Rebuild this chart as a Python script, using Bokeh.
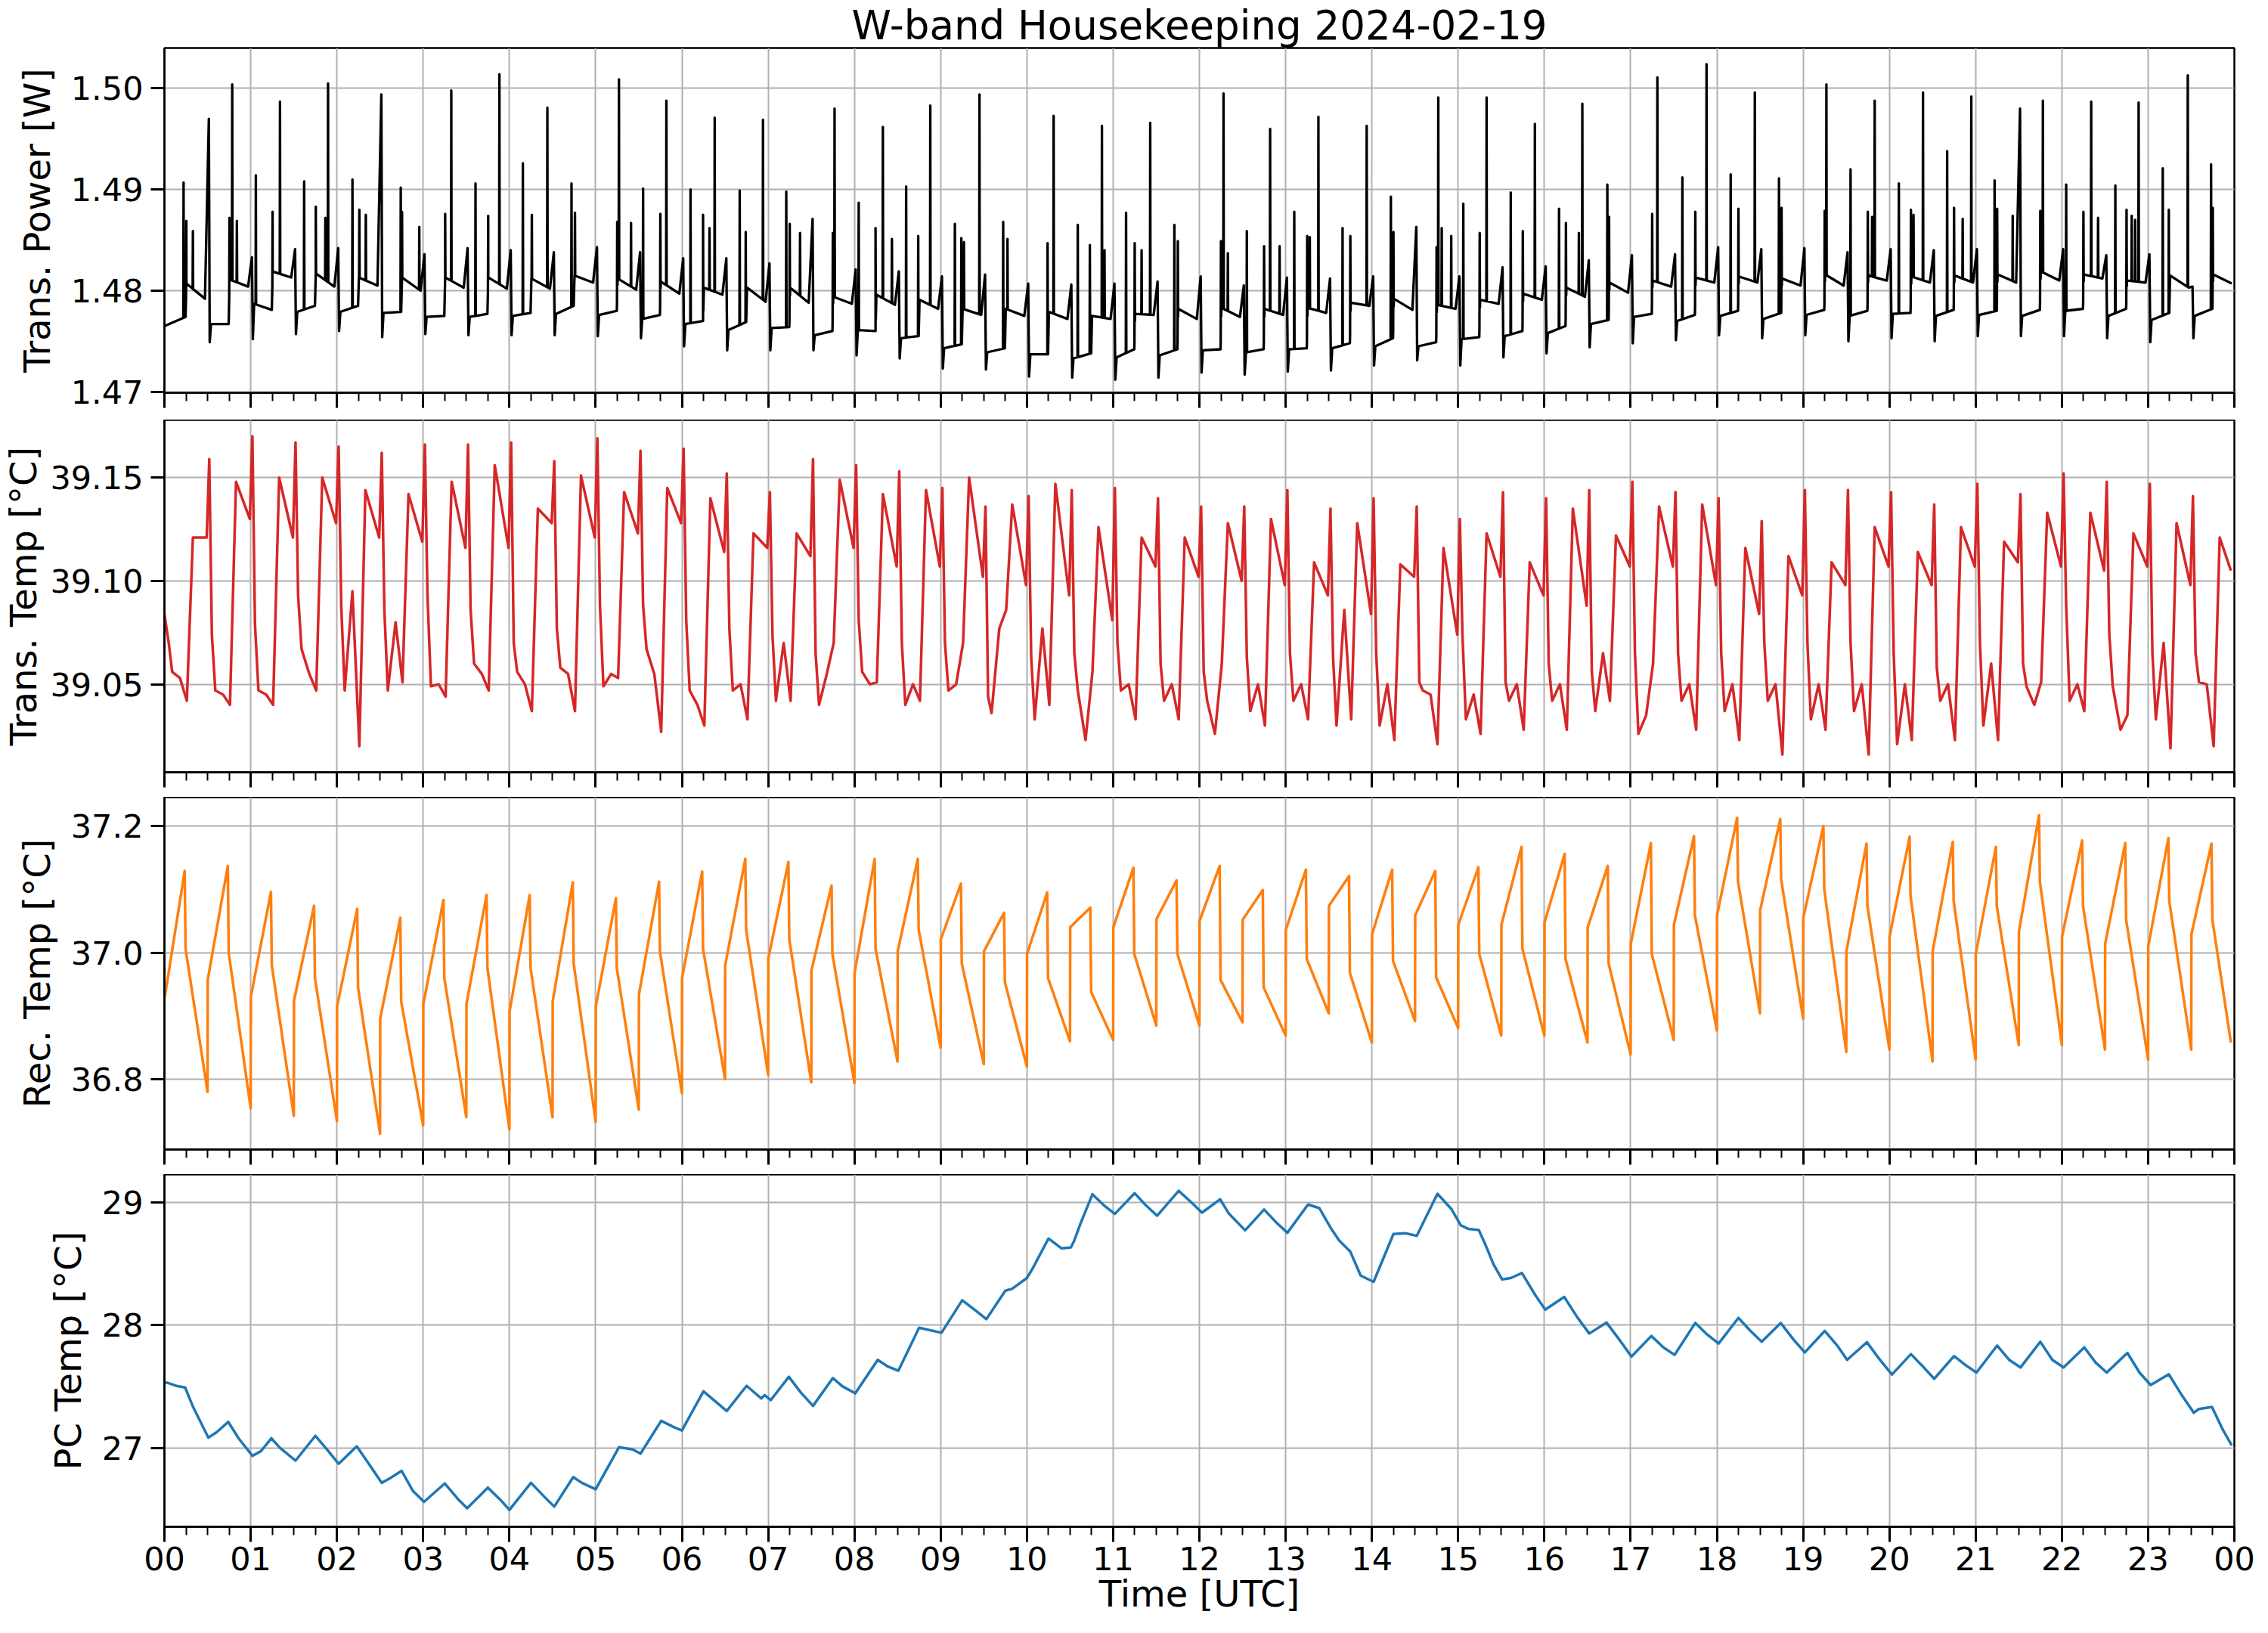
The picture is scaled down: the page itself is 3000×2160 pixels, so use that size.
import numpy as np
from bokeh.plotting import figure
from bokeh.models import FixedTicker, PrintfTickFormatter, Range1d
from bokeh.layouts import column
from bokeh.embed import file_html
from bokeh.resources import INLINE

# ---------------- texts ----------------
TITLE = "W-band Housekeeping 2024-02-19"
X_LABEL = "Time [UTC]"
Y_LABELS = ["Trans. Power [W]", "Trans. Temp [°C]", "Rec. Temp [°C]", "PC Temp [°C]"]
HOUR_TICKS = list(range(25))
HOUR_LABELS = ["00", "01", "02", "03", "04", "05", "06", "07", "08", "09", "10", "11",
               "12", "13", "14", "15", "16", "17", "18", "19", "20", "21", "22", "23", "00"]
QUARTER_TICKS = [h + q for h in range(24) for q in (0.25, 0.5, 0.75)]

POWER_TICKS = [1.47, 1.48, 1.49, 1.50]
TTEMP_TICKS = [39.05, 39.10, 39.15]
RTEMP_TICKS = [36.8, 37.0, 37.2]
PC_TICKS = [27, 28, 29]

# half-hour duty cycles (48 per day)
cycle_start = np.arange(48) * 0.5

# ---------------- Trans. Power [W] (black) ----------------
pw_dip = [None, 1.4749, 1.4752, 1.4757, 1.4760, 1.4754, 1.4757, 1.4756, 1.4756, 1.4756,
          1.4755, 1.4753, 1.4745, 1.4741, 1.4741, 1.4741, 1.4736, 1.4733, 1.4723, 1.4722,
          1.4715, 1.4714, 1.4712, 1.4714, 1.4719, 1.4717, 1.4720, 1.4721, 1.4726, 1.4731,
          1.4726, 1.4734, 1.4738, 1.4744, 1.4748, 1.4751, 1.4756, 1.4753, 1.4756, 1.4750,
          1.4753, 1.4750, 1.4755, 1.4755, 1.4755, 1.4753, 1.4749, 1.4753]
pw_lo1 = [1.4765, 1.4767, 1.4787, 1.4779, 1.4779, 1.4778, 1.4774, 1.4774, 1.4775, 1.4777,
          1.4776, 1.4772, 1.4767, 1.4761, 1.4763, 1.4756, 1.4761, 1.4753, 1.4743, 1.4739,
          1.4737, 1.4733, 1.4734, 1.4736, 1.4741, 1.4739, 1.4742, 1.4743, 1.4745, 1.4745,
          1.4752, 1.4755, 1.4758, 1.4767, 1.4774, 1.4770, 1.4775, 1.4772, 1.4776, 1.4775,
          1.4777, 1.4775, 1.4776, 1.4775, 1.4780, 1.4775, 1.4771, 1.4775]
pw_lo2 = [1.4774, 1.4767, 1.4781, 1.4785, 1.4785, 1.4779, 1.4775, 1.4777, 1.4778, 1.4785,
          1.4780, 1.4776, 1.4770, 1.4769, 1.4764, 1.4760, 1.4760, 1.4755, 1.4747, 1.4743,
          1.4737, 1.4738, 1.4742, 1.4742, 1.4742, 1.4742, 1.4743, 1.4748, 1.4753, 1.4749,
          1.4754, 1.4760, 1.4765, 1.4771, 1.4777, 1.4776, 1.4780, 1.4778, 1.4781, 1.4780,
          1.4778, 1.4781, 1.4780, 1.4781, 1.4782, 1.4782, 1.4778, 1.4782]
pw_hi1 = [1.4807, 1.4811, 1.4819, 1.4817, 1.4813, 1.4813, 1.4813, 1.4813, 1.4812, 1.4815,
          1.4812, 1.4809, 1.4803, 1.4803, 1.4803, 1.4794, 1.4796, 1.4791, 1.4782, 1.4782,
          1.4779, 1.4775, 1.4777, 1.4782, 1.4783, 1.4782, 1.4783, 1.4788, 1.4792, 1.4786,
          1.4791, 1.4797, 1.4803, 1.4808, 1.4810, 1.4813, 1.4814, 1.4812, 1.4816, 1.4815,
          1.4814, 1.4815, 1.4816, 1.4819, 1.4816, 1.4810, 1.4815, 1.4816]
pw_hi2 = [1.4792, 1.4804, 1.4813, 1.4804, 1.4805, 1.4800, 1.4803, 1.4802, 1.4802, 1.4808,
          1.4801, 1.4797, 1.4796, 1.4789, 1.4788, 1.4787, 1.4786, 1.4782, 1.4776, 1.4775,
          1.4772, 1.4772, 1.4776, 1.4772, 1.4774, 1.4776, 1.4778, 1.4785, 1.4781, 1.4782,
          1.4787, 1.4791, 1.4794, 1.4798, 1.4804, 1.4808, 1.4808, 1.4805, 1.4805, 1.4810,
          1.4808, 1.4808, 1.4808, 1.4810, 1.4812, 1.4808, 1.4803, 1.4807]
pw_ramp = [1.4970, 1.4833, 1.4841, 1.4842, 1.4994, 1.4836, 1.4842, 1.4840, 1.4838, 1.4843,
           1.4838, 1.4832, 1.4832, 1.4827, 1.4871, 1.4821, 1.4819, 1.4814, 1.4816, 1.4807,
           1.4806, 1.4807, 1.4809, 1.4814, 1.4805, 1.4813, 1.4812, 1.4814, 1.4863, 1.4814,
           1.4823, 1.4824, 1.4830, 1.4835, 1.4836, 1.4843, 1.4841, 1.4842, 1.4838, 1.4841,
           1.4840, 1.4841, 1.4980, 1.4841, 1.4835, 1.4836, 1.4804, None]
spike_t = [0.222, 0.254, 0.33, 0.754, 0.786, 0.84, 1.06, 1.254, 1.34, 1.62, 1.755, 1.866, 1.897,
           2.18, 2.26, 2.335, 2.74, 2.755, 2.955, 3.255, 3.326, 3.607, 3.754, 3.884,
           4.156, 4.26, 4.44, 4.72, 4.76, 5.25, 5.27, 5.41, 5.55, 5.75, 5.82,
           6.10, 6.245, 6.32, 6.38, 6.67, 6.74, 6.94, 7.21, 7.25, 7.37, 7.75, 7.77,
           8.05, 8.245, 8.33, 8.435, 8.60, 8.74, 8.88, 9.165, 9.24, 9.27, 9.45, 9.725, 9.775,
           10.24, 10.31, 10.59, 10.73, 10.87, 10.90, 11.15, 11.25, 11.33, 11.43, 11.71, 11.75,
           12.25, 12.28, 12.33, 12.55, 12.75, 12.82, 12.93, 13.10, 13.25, 13.28, 13.38,
           13.66, 13.75, 13.94, 14.22, 14.25, 14.75, 14.77, 14.81, 14.92, 15.06, 15.25, 15.33,
           15.61, 15.75, 15.89, 16.17, 16.25, 16.40, 16.44, 16.73, 16.75, 17.25, 17.31,
           17.60, 17.75, 17.88, 18.16, 18.25, 18.44, 18.72, 18.75, 19.25, 19.27,
           19.55, 19.75, 19.80, 19.83, 20.11, 20.25, 20.28, 20.39, 20.67, 20.75, 20.85, 20.95,
           21.22, 21.25, 21.43, 21.75, 21.78, 22.05, 22.25, 22.34, 22.42,
           22.62, 22.75, 22.81, 22.85, 22.89, 23.17, 23.24, 23.46, 23.73, 23.75]
spike_v = [1.4907, 1.4869, 1.4859, 1.4872, 1.5004, 1.4869, 1.4914, 1.4878, 1.4987, 1.4908, 1.4883, 1.4872, 1.5005,
           1.4910, 1.4880, 1.4875, 1.4902, 1.4878, 1.4863, 1.4876, 1.4998, 1.4906, 1.4874, 1.5014,
           1.4926, 1.4875, 1.4981, 1.4906, 1.4877, 1.4868, 1.5009, 1.4867, 1.4901, 1.4876, 1.4988,
           1.4900, 1.4875, 1.4862, 1.4971, 1.4899, 1.4858, 1.4969, 1.4898, 1.4866, 1.4857, 1.4857, 1.4980,
           1.4887, 1.4862, 1.4962, 1.4851, 1.4903, 1.4854, 1.4983, 1.4866, 1.4852, 1.4848, 1.4994, 1.4868, 1.4851,
           1.4847, 1.4973, 1.4865, 1.4845, 1.4963, 1.4840, 1.4877, 1.4847, 1.4840, 1.4966, 1.4865, 1.4849,
           1.4849, 1.4995, 1.4837, 1.4859, 1.4844, 1.4960, 1.4844, 1.4878, 1.4854, 1.4853, 1.4972,
           1.4862, 1.4854, 1.4963, 1.4893, 1.4858, 1.4843, 1.4991, 1.4862, 1.4854, 1.4886, 1.4857, 1.4991,
           1.4897, 1.4859, 1.4965, 1.4881, 1.4867, 1.4857, 1.4985, 1.4905, 1.4873, 1.4876, 1.5011,
           1.4912, 1.4878, 1.5024, 1.4915, 1.4881, 1.4996, 1.4911, 1.4882, 1.4879, 1.5004,
           1.4920, 1.4878, 1.4873, 1.4988, 1.4906, 1.4880, 1.4875, 1.4996, 1.4938, 1.4882, 1.4871, 1.4992,
           1.4909, 1.4881, 1.4874, 1.4879, 1.4988, 1.4905, 1.4878, 1.4987, 1.4872,
           1.4904, 1.4880, 1.4874, 1.4870, 1.4986, 1.4921, 1.4880, 1.5013, 1.4925, 1.4882]

# ---------------- Trans. Temp [°C] (red) ----------------
tt_spike = [39.084, 39.159, 39.170, 39.167, 39.165, 39.162, 39.166, 39.166, 39.167, 39.158,
            39.169, 39.163, 39.164, 39.152, 39.143, 39.159, 39.156, 39.153, 39.145, 39.136,
            39.141, 39.144, 39.145, 39.140, 39.136, 39.136, 39.144, 39.135, 39.140, 39.136,
            39.130, 39.143, 39.140, 39.144, 39.148, 39.143, 39.140, 39.129, 39.144, 39.144,
            39.143, 39.137, 39.147, 39.142, 39.152, 39.148, 39.147, 39.141]
tt_drop = [39.070, 39.074, 39.079, 39.093, 39.088, 39.086, 39.093, 39.086, 39.070, 39.077,
           39.088, 39.088, 39.081, 39.077, 39.074, 39.065, 39.081, 39.070, 39.070, 39.044,
           39.063, 39.065, 39.070, 39.060, 39.056, 39.063, 39.065, 39.063, 39.065, 39.051,
           39.074, 39.051, 39.060, 39.056, 39.065, 39.065, 39.065, 39.070, 39.070, 39.070,
           39.065, 39.058, 39.070, 39.060, 39.088, 39.074, 39.065, 39.065]
tt_low1 = [39.056, 39.047, 39.047, 39.067, 39.047, 39.047, 39.049, 39.060, 39.056, 39.058,
           39.049, 39.067, 39.047, 39.047, 39.042, 39.040, 39.056, 39.040, 39.047, 39.036,
           39.033, 39.047, 39.047, 39.042, 39.042, 39.037, 39.042, 39.030, 39.030, 39.047,
           39.033, 39.042, 39.042, 39.037, 39.026, 39.042, 39.037, 39.042, 39.033, 39.037,
           39.021, 39.042, 39.030, 39.049, 39.042, 39.049, 39.033, 39.051]
tt_low2 = [39.053, 39.045, 39.045, 39.055, 39.095, 39.080, 39.050, 39.055, 39.050, 39.055,
           39.055, 39.055, 39.040, 39.050, 39.070, 39.055, 39.050, 39.050, 39.050, 39.077,
           39.077, 39.023, 39.050, 39.050, 39.026, 39.050, 39.050, 39.086, 39.050, 39.045,
           39.045, 39.050, 39.050, 39.065, 39.035, 39.050, 39.050, 39.050, 39.050, 39.050,
           39.050, 39.050, 39.060, 39.040, 39.050, 39.028, 39.070, 39.050]
tt_low3 = [39.042, 39.040, 39.040, 39.047, 39.020, 39.051, 39.044, 39.047, 39.037, 39.037,
           39.053, 39.027, 39.030, 39.033, 39.042, 39.070, 39.051, 39.042, 39.070, 39.086,
           39.040, 39.056, 39.033, 39.033, 39.060, 39.030, 39.033, 39.033, 39.023, 39.021,
           39.026, 39.028, 39.028, 39.042, 39.060, 39.028, 39.023, 39.016, 39.028, 39.016,
           39.023, 39.023, 39.023, 39.051, 39.037, 39.035, 39.019, 39.020]
tt_high1 = [39.121, 39.148, 39.150, 39.150, 39.144, 39.142, 39.148, 39.156, 39.135, 39.151,
            39.143, 39.145, 39.140, 39.123, 39.123, 39.149, 39.142, 39.144, 39.150, 39.137,
            39.147, 39.126, 39.121, 39.121, 39.128, 39.130, 39.109, 39.128, 39.108, 39.116,
            39.123, 39.109, 39.135, 39.122, 39.136, 39.137, 39.116, 39.112, 39.109, 39.126,
            39.114, 39.126, 39.119, 39.133, 39.133, 39.123, 39.128, 39.121]
tt_high2 = [39.121, 39.130, 39.121, 39.128, 39.121, 39.119, 39.116, 39.116, 39.128, 39.121,
            39.123, 39.128, 39.114, 39.116, 39.112, 39.116, 39.107, 39.107, 39.102, 39.098,
            39.093, 39.081, 39.107, 39.102, 39.100, 39.098, 39.093, 39.084, 39.102, 39.074,
            39.102, 39.093, 39.088, 39.107, 39.107, 39.098, 39.084, 39.093, 39.098, 39.107,
            39.098, 39.107, 39.109, 39.107, 39.105, 39.107, 39.098, 39.105]

# ---------------- Rec. Temp [°C] (orange) ----------------
rt_jump = [36.926, 36.957, 36.930, 36.924, 36.915, 36.896, 36.919, 36.919, 36.907, 36.923,
           36.915, 36.934, 36.960, 36.980, 36.991, 36.972, 36.968, 37.002, 37.021, 37.002,
           36.998, 37.040, 37.040, 37.053, 37.050, 37.052, 37.036, 37.074, 37.029, 37.059,
           37.044, 37.044, 37.048, 37.040, 37.014, 37.044, 37.059, 37.067, 37.055, 37.002,
           37.025, 37.002, 36.998, 37.033, 37.025, 37.014, 37.010, 37.029]
rt_peak = [37.129, 37.137, 37.096, 37.074, 37.069, 37.055, 37.083, 37.091, 37.091, 37.111,
           37.086, 37.112, 37.128, 37.148, 37.143, 37.106, 37.148, 37.148, 37.109, 37.063,
           37.095, 37.071, 37.134, 37.114, 37.137, 37.099, 37.131, 37.121, 37.131, 37.129,
           37.135, 37.167, 37.156, 37.137, 37.173, 37.184, 37.213, 37.211, 37.200, 37.172,
           37.183, 37.175, 37.167, 37.217, 37.177, 37.173, 37.181, 37.172]
rt_fall = [37.006, 37.000, 36.980, 36.960, 36.945, 36.923, 36.960, 36.976, 36.976, 36.983,
           36.976, 37.002, 37.006, 37.036, 37.021, 36.998, 37.006, 37.036, 36.983, 36.953,
           36.960, 36.938, 36.998, 36.998, 36.957, 36.945, 36.990, 36.968, 36.987, 36.961,
           36.998, 37.006, 36.990, 36.983, 36.998, 37.059, 37.112, 37.116, 37.100, 37.074,
           37.090, 37.082, 37.074, 37.112, 37.074, 37.052, 37.082, 37.052]
rt_trough = [36.780, 36.754, 36.742, 36.734, 36.714, 36.727, 36.740, 36.721, 36.740, 36.733,
             36.752, 36.778, 36.800, 36.807, 36.795, 36.794, 36.828, 36.850, 36.824, 36.820,
             36.860, 36.862, 36.885, 36.885, 36.890, 36.869, 36.904, 36.858, 36.892, 36.881,
             36.869, 36.869, 36.858, 36.839, 36.862, 36.877, 36.904, 36.896, 36.843, 36.847,
             36.828, 36.831, 36.854, 36.854, 36.847, 36.831, 36.847, 36.858]

# ---------------- PC Temp [°C] (blue) ----------------
pc_t = [0.00, 0.03, 0.14, 0.24, 0.33, 0.51, 0.61, 0.74, 0.86, 1.02, 1.12, 1.24, 1.34, 1.52, 1.75,
        1.90, 2.02, 2.23, 2.37, 2.52, 2.62, 2.75, 2.88, 3.01, 3.25, 3.40, 3.51, 3.75, 3.90, 4.00,
        4.25, 4.41, 4.52, 4.74, 4.84, 5.00, 5.27, 5.43, 5.52, 5.76, 5.91, 6.00, 6.25, 6.52, 6.75,
        6.92, 6.96, 7.03, 7.24, 7.38, 7.52, 7.75, 7.86, 8.01, 8.27, 8.38, 8.51, 8.75, 9.01, 9.25,
        9.41, 9.53, 9.75, 9.83, 10.00, 10.07, 10.25, 10.40, 10.51, 10.55, 10.62, 10.76, 10.89,
        11.02, 11.25, 11.37, 11.51, 11.76, 11.91, 12.03, 12.24, 12.34, 12.53, 12.75, 12.88, 13.02,
        13.26, 13.39, 13.53, 13.62, 13.75, 13.87, 14.02, 14.25, 14.39, 14.52, 14.76, 14.92, 15.03,
        15.12, 15.24, 15.32, 15.41, 15.51, 15.61, 15.74, 15.89, 16.01, 16.23, 16.38, 16.52, 16.72,
        16.87, 17.01, 17.24, 17.38, 17.51, 17.75, 17.89, 18.02, 18.25, 18.39, 18.52, 18.74, 18.89,
        19.02, 19.25, 19.40, 19.51, 19.74, 19.88, 20.03, 20.25, 20.40, 20.52, 20.75, 20.88, 21.01,
        21.25, 21.39, 21.52, 21.75, 21.89, 22.02, 22.26, 22.39, 22.52, 22.76, 22.90, 23.03, 23.24,
        23.39, 23.53, 23.59, 23.74, 23.87, 23.97]
pc_v = [27.530, 27.531, 27.505, 27.492, 27.337, 27.083, 27.130, 27.212, 27.078, 26.935, 26.974,
        27.078, 27.000, 26.896, 27.098, 26.974, 26.870, 27.013, 26.870, 26.715, 26.754, 26.813,
        26.650, 26.560, 26.710, 26.585, 26.508, 26.676, 26.573, 26.495, 26.715, 26.598, 26.521,
        26.762, 26.715, 26.663, 27.005, 26.987, 26.953, 27.220, 27.168, 27.142, 27.461, 27.300,
        27.506, 27.403, 27.430, 27.389, 27.579, 27.450, 27.342, 27.569, 27.502, 27.444, 27.717,
        27.666, 27.629, 27.979, 27.938, 28.203, 28.117, 28.049, 28.281, 28.297, 28.384, 28.466,
        28.706, 28.626, 28.634, 28.691, 28.825, 29.067, 28.978, 28.907, 29.075, 28.983, 28.892,
        29.095, 28.999, 28.917, 29.026, 28.911, 28.773, 28.942, 28.845, 28.753, 28.983, 28.954,
        28.784, 28.691, 28.599, 28.404, 28.353, 28.743, 28.749, 28.728, 29.071, 28.948, 28.814,
        28.784, 28.775, 28.650, 28.496, 28.373, 28.384, 28.425, 28.250, 28.127, 28.230, 28.066,
        27.932, 28.021, 27.881, 27.744, 27.912, 27.819, 27.758, 28.018, 27.922, 27.850, 28.059,
        27.953, 27.865, 28.018, 27.881, 27.778, 27.953, 27.830, 27.717, 27.861, 27.727, 27.598,
        27.764, 27.655, 27.563, 27.748, 27.676, 27.614, 27.834, 27.717, 27.655, 27.865, 27.717,
        27.655, 27.819, 27.696, 27.614, 27.774, 27.614, 27.512, 27.600, 27.430, 27.286, 27.317,
        27.333, 27.143, 27.020]

# ---------------- build polylines from the read values ----------------
def power_line():
    bx, by = [], []
    n = len(cycle_start)
    for k, t in enumerate(cycle_start):
        if k == 0:
            bx += [0.0]
            by += [pw_lo1[k]]
        else:
            bx += [t + 0.025, t + 0.04]
            by += [pw_dip[k], pw_lo1[k]]
        bx += [t + 0.245, t + 0.255]
        by += [pw_lo2[k], pw_hi1[k]]
        if k < n - 1:
            bx += [t + 0.47, t + 0.515]
            by += [pw_hi2[k], pw_ramp[k]]
        else:
            bx += [23.97]
            by += [pw_hi2[k]]
    bx = np.array(bx)
    by = np.array(by)
    d = 0.003
    sx, sy = [], []
    for st, sv in zip(spike_t, spike_v):
        sx += [st - d, st, st + d]
        sy += [np.interp(st - d, bx, by), sv, np.interp(st + d, bx, by)]
    xs = np.concatenate([bx, sx])
    ys = np.concatenate([by, sy])
    order = np.argsort(xs, kind="stable")
    return xs[order], ys[order]


def ttemp_line():
    xs, ys = [], []
    offs = [0.02, 0.05, 0.09, 0.18, 0.26, 0.33, 0.49]
    for k, t in enumerate(cycle_start):
        vals = [tt_spike[k], tt_drop[k], tt_low1[k], tt_low2[k], tt_low3[k], tt_high1[k], tt_high2[k]]
        for j, (o, v) in enumerate(zip(offs, vals)):
            tt = t + o
            if k == 0 and j == 0:
                tt = 0.0
            xs.append(min(tt, 23.96))
            ys.append(v)
    return xs, ys


def rtemp_line():
    xs, ys = [], []
    n = len(cycle_start)
    for k, t in enumerate(cycle_start):
        t_end = t + 0.5 if k < n - 1 else 23.96
        xs += [t + (0.0 if k == 0 else 0.002), t + 0.235, t + 0.245, t_end]
        ys += [rt_jump[k], rt_peak[k], rt_fall[k], rt_trough[k]]
    return xs, ys


# ---------------- layout ----------------
FONT = "DejaVu Sans"
FRAME_W = 2744
FRAME_H = 466
LEFT = 211
RIGHT = 28
x_range = Range1d(0, 24)


def make_panel(yr, yticks, fmt, ylabel, top, bottom, last, ylabel_standoff):
    p = figure(width=LEFT + FRAME_W + RIGHT, height=top + FRAME_H + bottom,
               x_range=x_range, y_range=Range1d(*yr),
               output_backend="svg", toolbar_location=None,
               min_border_left=LEFT, min_border_right=RIGHT,
               min_border_top=top, min_border_bottom=bottom)
    p.background_fill_color = "white"
    p.border_fill_color = "white"
    p.outline_line_color = "black"
    p.outline_line_width = 2.5
    p.outline_line_alpha = 1.0

    xa = p.xaxis[0]
    xa.ticker = FixedTicker(ticks=HOUR_TICKS, minor_ticks=QUARTER_TICKS)
    xa.axis_line_color = "black"
    xa.axis_line_width = 2.5
    xa.major_tick_line_color = "black"
    xa.major_tick_line_width = 3
    xa.minor_tick_line_color = "black"
    xa.minor_tick_line_width = 2
    xa.major_tick_in = 0
    xa.major_tick_out = 20
    xa.minor_tick_in = 0
    xa.minor_tick_out = 11
    if last:
        xa.major_label_overrides = {t: lab for t, lab in zip(HOUR_TICKS, HOUR_LABELS)}
        xa.major_label_text_font = FONT
        xa.major_label_text_font_size = "43px"
        xa.major_label_text_color = "black"
        xa.major_label_standoff = 6
        xa.axis_label = X_LABEL
        xa.axis_label_text_font = FONT
        xa.axis_label_text_font_size = "48px"
        xa.axis_label_text_font_style = "normal"
        xa.axis_label_text_color = "black"
        xa.axis_label_standoff = 0
    else:
        xa.major_label_overrides = {t: "" for t in HOUR_TICKS}
        xa.major_label_text_font_size = "0px"
        xa.major_label_standoff = 0

    ya = p.yaxis[0]
    ya.ticker = FixedTicker(ticks=yticks, minor_ticks=[])
    ya.formatter = PrintfTickFormatter(format=fmt)
    ya.axis_line_color = "black"
    ya.axis_line_width = 2.5
    ya.major_tick_line_color = "black"
    ya.major_tick_line_width = 3
    ya.major_tick_in = 0
    ya.major_tick_out = 18
    ya.minor_tick_line_color = None
    ya.major_label_text_font = FONT
    ya.major_label_text_font_size = "43px"
    ya.major_label_text_color = "black"
    ya.major_label_standoff = 10
    ya.axis_label = ylabel
    ya.axis_label_text_font = FONT
    ya.axis_label_text_font_size = "48px"
    ya.axis_label_text_font_style = "normal"
    ya.axis_label_text_color = "black"
    ya.axis_label_standoff = ylabel_standoff

    for g in (p.xgrid[0], p.ygrid[0]):
        g.grid_line_color = "#b0b0b0"
        g.grid_line_width = 2
    return p


p1 = make_panel((1.4699, 1.5040), POWER_TICKS, "%.2f", Y_LABELS[0], 53, 36, False, 14)
p2 = make_panel((39.0074, 39.1779), TTEMP_TICKS, "%.2f", Y_LABELS[1], 0, 33, False, 4)
p3 = make_panel((36.689, 37.2455), RTEMP_TICKS, "%.1f", Y_LABELS[2], 0, 33, False, 14)
p4 = make_panel((26.357, 29.228), PC_TICKS, "%d", Y_LABELS[3], 0, 133, True, 14)

p1.title.text = TITLE
p1.title.align = "center"
p1.title.text_font = FONT
p1.title.text_font_size = "53px"
p1.title.text_font_style = "normal"
p1.title.text_color = "black"
p1.title.standoff = 0
p1.title.offset = 0

px, py = power_line()
p1.line(px, py, line_color="black", line_width=3.3, line_join="round")
tx, ty = ttemp_line()
p2.line(tx, ty, line_color="#d62728", line_width=3.5, line_join="round")
rx, ry = rtemp_line()
p3.line(rx, ry, line_color="#ff7f0e", line_width=3.5, line_join="round")
p4.line(pc_t, pc_v, line_color="#1f77b4", line_width=3.5, line_join="round")

layout = column(p1, p2, p3, p4, spacing=0)
open("out.html", "w").write(file_html(layout, INLINE, title=TITLE))
